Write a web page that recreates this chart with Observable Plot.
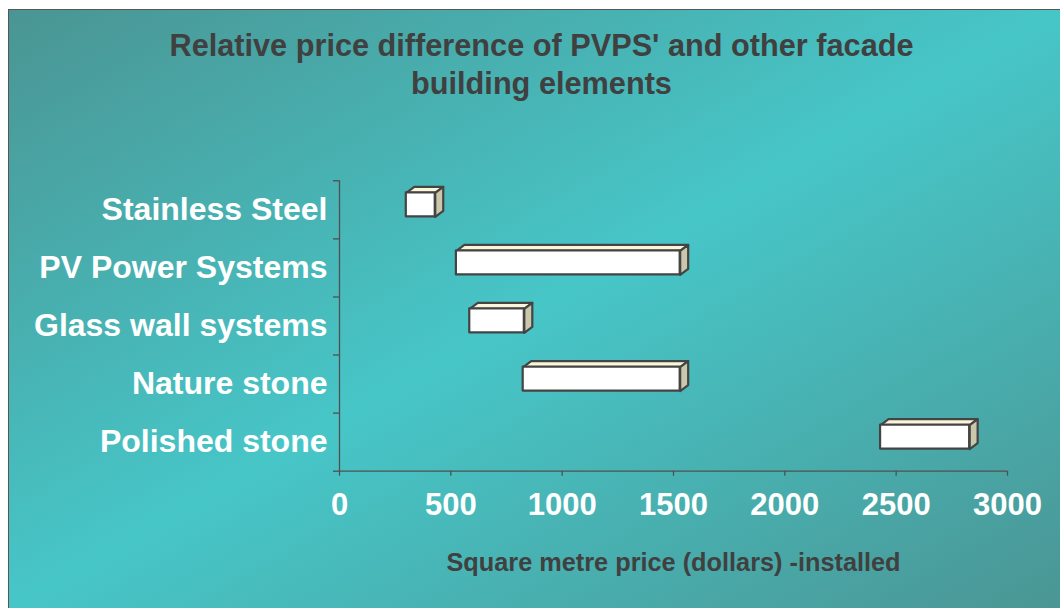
<!DOCTYPE html>
<html>
<head>
<meta charset="utf-8">
<script src="https://cdn.jsdelivr.net/npm/d3@7"></script>
<script src="https://cdn.jsdelivr.net/npm/@observablehq/plot@0.6"></script>
<style>
  html, body { margin: 0; padding: 0; background: #ffffff; width: 1060px; height: 608px; overflow: hidden; }
  #frame {
    position: absolute; left: 8px; top: 9px; width: 1052px; height: 599px;
    box-sizing: border-box;
    border-left: 1px solid #565656; border-top: 1px solid #565656;
    background: linear-gradient(to bottom right, #4a9593 0%, #47c6c8 50%, #4a9694 100%);
    font-family: "Liberation Sans", Arial, sans-serif;
  }
  #title {
    position: absolute; left: 0; top: 17px; width: 1065px;
    text-align: center; font-weight: bold; font-size: 30.7px; line-height: 37.5px;
    color: #404040;
  }
  #chart { position: absolute; left: 0; top: 139px; }
</style>
</head>
<body>
<div id="frame">
  <div id="title">Relative price difference of PVPS' and other facade<br>building elements</div>
  <div id="chart"></div>
</div>
<script>
const categories = ["Stainless Steel", "PV Power Systems", "Glass wall systems", "Nature stone", "Polished stone"];
const lowPrices  = [300, 525, 585, 825, 2430];
const highPrices = [430, 1530, 830, 1530, 2830];
const xTicks = [0, 500, 1000, 1500, 2000, 2500, 3000];
const xTitle = "Square metre price (dollars) -installed";

// layout
const W = 1051, H = 459, ML = 330, MR = 53, MT = 31.3, MB = 137.3;
const X_MAX = 3000, N = categories.length;
const ux = X_MAX / (W - ML - MR);   // data units per pixel (x)
const uy = N / (H - MT - MB);       // data units per pixel (y)
const DX = 8 * ux, DY = 6 * uy;     // 3D depth
const FACE_TOP = 12 * uy, FACE_BOT = 36 * uy;

const rows = categories.map((name, i) => ({
  name, i, low: lowPrices[i], high: highPrices[i],
  top: i + FACE_TOP, bot: i + FACE_BOT
}));

const topFaces = rows.flatMap(r => [
  [r.low, r.top], [r.low + DX, r.top - DY], [r.high + DX, r.top - DY], [r.high, r.top]
].map(([x, y]) => ({id: r.i, x, y})));

const sideFaces = rows.flatMap(r => [
  [r.high, r.top], [r.high + DX, r.top - DY], [r.high + DX, r.bot - DY], [r.high, r.bot]
].map(([x, y]) => ({id: r.i, x, y})));

const EDGE = "#444444";
const AXIS = "#505050";

const chart = Plot.plot({
  width: W, height: H,
  marginLeft: ML, marginRight: MR, marginTop: MT, marginBottom: MB,
  style: {background: "transparent", fontFamily: "\"Liberation Sans\", Arial, sans-serif", overflow: "visible"},
  x: {domain: [0, X_MAX], axis: null},
  y: {domain: [0, N], reverse: true, axis: null},
  marks: [
    Plot.ruleX([0], {stroke: AXIS, strokeWidth: 1.3}),
    Plot.ruleY([N], {stroke: AXIS, strokeWidth: 1.3}),
    Plot.axisY({ticks: d3.range(N + 1), tickSize: 6, tickFormat: () => "", stroke: AXIS, strokeWidth: 1.3}),
    Plot.axisX({ticks: xTicks, tickSize: 5, tickPadding: 17, tickFormat: d => String(d),
      stroke: AXIS, strokeWidth: 1.3, fill: "white", fontSize: 31, fontWeight: "bold"}),
    Plot.text(categories, {y: (d, i) => i + 0.5, text: d => d, frameAnchor: "left", dx: -12,
      textAnchor: "end", fill: "white", fontSize: 32, fontWeight: "bold"}),
    Plot.text([xTitle], {text: d => d, frameAnchor: "bottom", dy: 100,
      fill: "#404040", fontSize: 25.3, fontWeight: "bold"}),
    Plot.line(topFaces, {x: "x", y: "y", z: "id", curve: "linear-closed", fill: "#fbf6d9",
      stroke: EDGE, strokeWidth: 2.2, strokeLinejoin: "round"}),
    Plot.line(sideFaces, {x: "x", y: "y", z: "id", curve: "linear-closed", fill: "#cac7aa",
      stroke: EDGE, strokeWidth: 2.2, strokeLinejoin: "round"}),
    Plot.rect(rows, {x1: "low", x2: "high", y1: "top", y2: "bot", fill: "white",
      stroke: EDGE, strokeWidth: 2.2, strokeLinejoin: "round"})
  ]
});
document.getElementById("chart").appendChild(chart);
</script>
</body>
</html>
